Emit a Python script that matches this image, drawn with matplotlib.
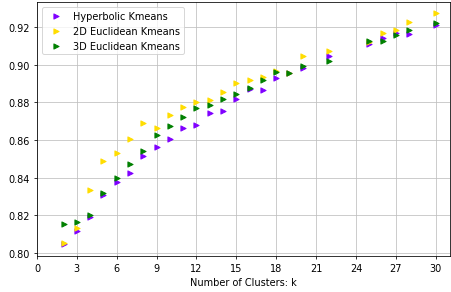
import matplotlib
matplotlib.use("Agg")
import matplotlib.pyplot as plt
import numpy as np

# number of clusters
k_values = [2, 3, 4, 5, 6, 7, 8, 9, 10, 11, 12, 13, 14, 15, 16, 17, 18, 19, 20, 22, 25, 26, 27, 28, 30]

hyperbolic = [0.8045, 0.8116, 0.8190, 0.8309, 0.8376, 0.8427, 0.8517, 0.8565, 0.8606, 0.8664,
              0.8680, 0.8745, 0.8754, 0.8818, 0.8872, 0.8867, 0.8928, 0.8953, 0.8984, 0.9048,
              0.9110, 0.9142, 0.9168, 0.9163, 0.9210]
euclid_2d = [0.8054, 0.8134, 0.8335, 0.8487, 0.8532, 0.8604, 0.8689, 0.8664, 0.8733, 0.8774,
             0.8800, 0.8814, 0.8853, 0.8903, 0.8917, 0.8935, 0.8967, 0.8955, 0.9048, 0.9073,
             0.9120, 0.9166, 0.9184, 0.9225, 0.9274]
euclid_3d = [0.8155, 0.8164, 0.8204, 0.8319, 0.8399, 0.8472, 0.8544, 0.8627, 0.8676, 0.8724,
             0.8769, 0.8788, 0.8818, 0.8845, 0.8876, 0.8919, 0.8960, 0.8958, 0.8995, 0.9021,
             0.9127, 0.9124, 0.9158, 0.9184, 0.9220]

fig = plt.figure(figsize=(6.4, 4.156), dpi=70.5)
ax = fig.add_axes([0.082, 0.123, 0.916, 0.867])

ax.scatter(k_values, hyperbolic, s=28, marker='>', color='#8000ff', label='Hyperbolic Kmeans', zorder=3)
ax.scatter(k_values, euclid_2d, s=28, marker='>', color='#ffdd00', label='2D Euclidean Kmeans', zorder=3)
ax.scatter(k_values, euclid_3d, s=28, marker='>', color='green', label='3D Euclidean Kmeans', zorder=3)

ax.set_xlim(0, 31.1)
ax.set_ylim(0.7984, 0.9333)
ax.set_xticks(np.arange(0, 31, 3))
ax.set_yticks([0.80, 0.82, 0.84, 0.86, 0.88, 0.90, 0.92])
ax.set_xlabel('Number of Clusters: k')
ax.grid(True, color='#c0c0c0')
ax.set_axisbelow(True)
ax.legend(loc='upper left')

fig.savefig('out.png', dpi=70.5)
